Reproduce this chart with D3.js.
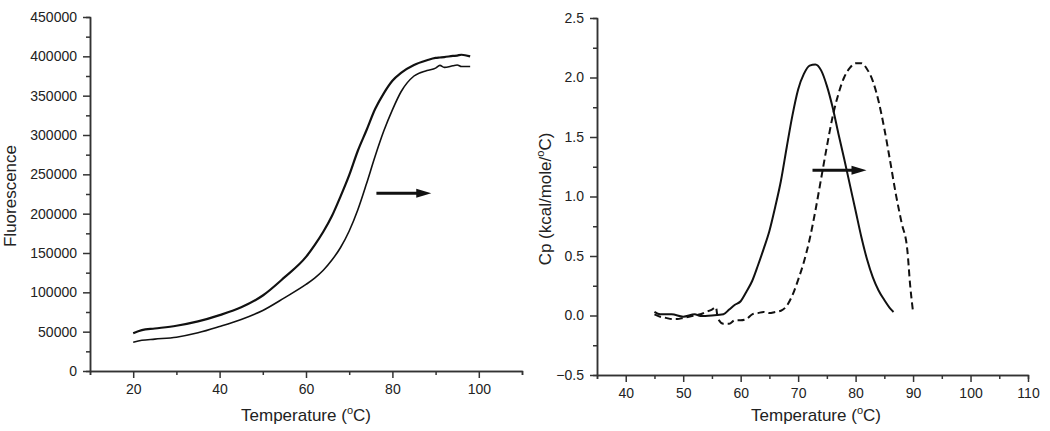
<!DOCTYPE html>
<html>
<head>
<meta charset="utf-8">
<script src="https://cdn.jsdelivr.net/npm/d3@7"></script>
<style>
body { margin: 0; background: #fff; }
text { font-family: "Liberation Sans", Arial, sans-serif; fill: #222; }
</style>
</head>
<body>
<div class="canvas"></div>
<script>
// left panel data: fluorescence melt curves
const fluorTemp = [20,22,25,30,35,40,45,50,55,60,62,64,66,68,70,72,74,76,78,80,82,85,88,90,91,92,94,95,96,98];
const fluorUpper = [48000,52000,54000,57500,63000,71000,81000,96000,119000,145000,160000,177000,197000,222000,249000,280000,306000,333000,353000,369000,379000,389000,395000,398000,398500,399000,400500,401000,402000,400000];
const fluorLower = [36500,39000,40500,43000,48500,56500,65500,77000,93000,110000,118000,128000,141000,157000,178000,205000,238000,273000,305000,332000,355000,375000,382000,385000,388500,386000,388000,389000,387000,387000];
const fluorArrow = [76.3, 89, 226000];

// right panel data: DSC traces
const cpSolidTemp = [45,46,47,48,50,52,53,55,57,58,59,60,61,62,63,64,65,66,67,68,69,70,71,72,73,74,75,76,77,78,79,80,81,82,83,84,85,86,86.6];
const cpSolid = [0.03,0.01,0.01,0.01,-0.01,0.01,-0.005,0.0,0.01,0.05,0.09,0.12,0.2,0.29,0.42,0.56,0.71,0.91,1.13,1.41,1.68,1.9,2.03,2.1,2.11,2.06,1.93,1.75,1.53,1.32,1.1,0.88,0.66,0.47,0.32,0.21,0.13,0.06,0.03];
const cpDashTemp = [45,46,47,48,49,50,51,52,53,54,55,55.7,56,57,58,59,60,61,62,63,64,65,66,67,68,69,70,71,72,73,74,75,76,77,78,79,80,81,82,83,84,85,86,87,88,89,89.5,90];
const cpDash = [0.01,-0.01,-0.02,-0.03,-0.03,-0.02,-0.01,0.0,0.01,0.03,0.05,0.07,-0.02,-0.07,-0.07,-0.04,-0.04,-0.03,0.01,0.02,0.03,0.02,0.03,0.04,0.08,0.17,0.3,0.45,0.64,0.88,1.15,1.42,1.67,1.86,2.0,2.08,2.12,2.12,2.07,1.97,1.8,1.57,1.3,1.02,0.78,0.55,0.25,0.03];
const cpArrow = [72.5, 81.9, 1.22];

// tick values
const fluorTicks = d3.range(0, 450001, 50000);
const fluorMinor = d3.range(25000, 450000, 50000);
const tempTicksLeft = [20,40,60,80,100];
const tempMinorLeft = [10,30,50,70,90,110];
const cpTicks = [-0.5,0,0.5,1,1.5,2,2.5];
const cpMinor = [-0.25,0.25,0.75,1.25,1.75,2.25];
const tempTicksRight = [40,50,60,70,80,90,100,110];
const tempMinorRight = [35,45,55,65,75,85,95,105];

const svg = d3.select('.canvas')
.append('svg')
.attr('width', 1050)
.attr('height', 431);

//draw one panel
const panel = (opt) => {

    const x = d3.scaleLinear().domain(opt.xDomain).range(opt.xRange);
    const y = d3.scaleLinear().domain(opt.yDomain).range(opt.yRange);

    const g = svg.append('g');

    //minor ticks first
    g.append('g')
    .attr('transform', `translate(0, ${opt.yRange[0]})`)
    .call(d3.axisBottom(x).tickValues(opt.xMinor).tickSize(4).tickFormat(''));

    g.append('g')
    .attr('transform', `translate(${opt.xRange[0]}, 0)`)
    .call(d3.axisLeft(y).tickValues(opt.yMinor).tickSize(4).tickFormat(''));

    //major ticks with labels
    g.append('g')
    .attr('transform', `translate(0, ${opt.yRange[0]})`)
    .call(d3.axisBottom(x).tickValues(opt.xTicks).tickSize(7).tickSizeOuter(0).tickPadding(6).tickFormat(d3.format('d')));

    g.append('g')
    .attr('transform', `translate(${opt.xRange[0]}, 0)`)
    .call(d3.axisLeft(y).tickValues(opt.yTicks).tickSize(7).tickSizeOuter(0).tickPadding(6).tickFormat(opt.yFormat));

    g.selectAll('.domain, .tick line')
    .attr('stroke', '#333')
    .attr('stroke-width', 1.5);

    g.selectAll('.tick text')
    .style('font-size', '14px')
    .style('font-family', '"Liberation Sans", Arial, sans-serif')
    .attr('fill', '#222');

    //curves
    const line = d3.line()
    .x(d => x(d[0]))
    .y(d => y(d[1]))
    .curve(d3.curveMonotoneX);

    opt.series.forEach(s => {
        g.append('path')
        .attr('fill', 'none')
        .attr('stroke', '#111')
        .attr('stroke-width', s.width)
        .attr('stroke-dasharray', s.dash)
        .attr('stroke-linejoin', 'round')
        .attr('d', line(d3.zip(s.t, s.v)));
    });

    //arrow
    const ax0 = x(opt.arrow[0]), ax1 = x(opt.arrow[1]), ay = y(opt.arrow[2]);
    g.append('line')
    .attr('x1', ax0).attr('x2', ax1 - 11)
    .attr('y1', ay).attr('y2', ay)
    .attr('stroke', '#111')
    .attr('stroke-width', 3);
    g.append('path')
    .attr('fill', '#111')
    .attr('d', `M${ax1},${ay} L${ax1 - 15},${ay - 4.5} L${ax1 - 15},${ay + 4.5} Z`);

    //axis titles
    const xt = g.append('text')
    .attr('x', opt.xTitleX)
    .attr('y', 421)
    .attr('text-anchor', 'middle')
    .style('font-size', '17px');
    xt.append('tspan').text('Temperature (');
    xt.append('tspan').attr('dy', -7).style('font-size', '11px').text('o');
    xt.append('tspan').attr('dy', 7).text('C)');

    const yt = g.append('text')
    .attr('transform', `translate(${opt.yTitleX}, ${opt.yTitleY}) rotate(-90)`)
    .attr('text-anchor', 'middle')
    .style('font-size', '17px');
    opt.yTitle.forEach(p => {
        yt.append('tspan')
        .attr('dy', p.dy || 0)
        .style('font-size', p.size || null)
        .text(p.text);
    });
};

panel({
    xDomain: [10, 110], xRange: [90, 522],
    yDomain: [0, 450000], yRange: [371, 17],
    xTicks: tempTicksLeft, xMinor: tempMinorLeft,
    yTicks: fluorTicks, yMinor: fluorMinor,
    yFormat: d3.format('d'),
    series: [
        {t: fluorTemp, v: fluorUpper, width: 2.2, dash: null},
        {t: fluorTemp, v: fluorLower, width: 1.6, dash: null}
    ],
    arrow: fluorArrow,
    xTitleX: 306,
    yTitleX: 16, yTitleY: 196,
    yTitle: [{text: 'Fluorescence'}]
});

panel({
    xDomain: [35, 110], xRange: [597, 1028],
    yDomain: [-0.5, 2.5], yRange: [375, 18],
    xTicks: tempTicksRight, xMinor: tempMinorRight,
    yTicks: cpTicks, yMinor: cpMinor,
    yFormat: d3.format('.1f'),
    series: [
        {t: cpSolidTemp, v: cpSolid, width: 2, dash: null},
        {t: cpDashTemp, v: cpDash, width: 2, dash: '7,4'}
    ],
    arrow: cpArrow,
    xTitleX: 816,
    yTitleX: 551, yTitleY: 199,
    yTitle: [
        {text: 'Cp (kcal/mole/'},
        {text: 'o', dy: -7, size: '11px'},
        {text: 'C)', dy: 7}
    ]
});
</script>
</body>
</html>
